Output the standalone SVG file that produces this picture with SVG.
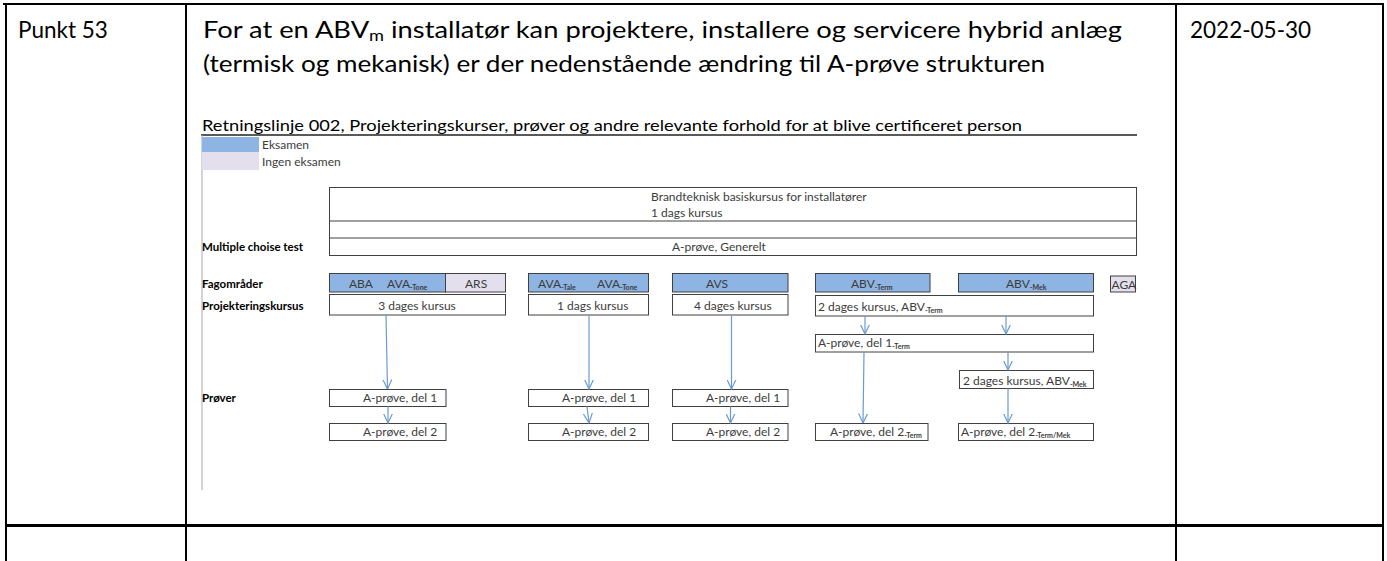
<svg xmlns="http://www.w3.org/2000/svg" width="1387" height="561" viewBox="0 0 1387 561">
<style>
.tbl{stroke:#000;stroke-width:2;fill:none}
.big{font-family:Lato,"Liberation Sans",sans-serif;font-size:22.5px;fill:#000}
.t{font-family:Lato,"Liberation Sans",sans-serif;font-size:12px;fill:#3c3c3c}
.lb{font-family:Lato,"Liberation Sans",sans-serif;font-size:11.5px;font-weight:bold;fill:#000}
.sub{font-size:7px;font-weight:bold}
.box{fill:#fff;stroke:#404040;stroke-width:1}
.ex{fill:#8DB4E2;stroke:#404040;stroke-width:1}
.no{fill:#E4DFEC;stroke:#404040;stroke-width:1}
.con line{stroke:#6C9BD2;stroke-width:1.2}
.arr{stroke:#6C9BD2;stroke-width:1.2;fill:none;marker-end:url(#ah)}
</style>
<defs>
<marker id="ah" viewBox="0 0 10 10" refX="9.5" refY="5" markerWidth="10" markerHeight="10" markerUnits="userSpaceOnUse" orient="auto">
<path d="M0,0.5 L9.5,5 L0,9.5" fill="none" stroke="#6C9BD2" stroke-width="1.2"/>
</marker>
</defs>
<rect width="1387" height="561" fill="#fff"/>

<g id="table">
<line class="tbl" x1="3" y1="4" x2="1384" y2="4"/>
<line class="tbl" x1="6" y1="4" x2="6" y2="561"/>
<line class="tbl" x1="186" y1="4" x2="186" y2="561"/>
<line class="tbl" x1="1176" y1="4" x2="1176" y2="561"/>
<line class="tbl" x1="1383" y1="4" x2="1383" y2="561"/>
<line x1="5" y1="525.5" x2="1384" y2="525.5" stroke="#000" stroke-width="3"/>
<text class="big" x="18" y="38">Punkt 53</text>
<text class="big" x="203" y="38" textLength="919" lengthAdjust="spacingAndGlyphs">For at en ABV<tspan font-size="15" dy="3">m</tspan><tspan dy="-3"> installatør kan projektere, installere og servicere hybrid anlæg</tspan></text>
<text class="big" x="203" y="72" textLength="842" lengthAdjust="spacingAndGlyphs">(termisk og mekanisk) er der nedenstående ændring til A-prøve strukturen</text>
<text class="big" x="1190" y="38">2022-05-30</text>
</g>

<g id="header">
<text x="202" y="131" font-family="Lato,'Liberation Sans',sans-serif" font-size="15" fill="#000" textLength="820" lengthAdjust="spacingAndGlyphs">Retningslinje 002, Projekteringskurser, prøver og andre relevante forhold for at blive certificeret person</text>
<line x1="201" y1="135" x2="1137" y2="135" stroke="#222" stroke-width="1.5"/>
<line x1="202" y1="135" x2="202" y2="490" stroke="#aaa" stroke-width="1"/>
</g>

<g id="legend">
<rect x="202" y="137" width="57" height="15" fill="#8DB4E2"/>
<rect x="202" y="152" width="57" height="18" fill="#E4DFEC"/>
<text class="t" x="262" y="149">Eksamen</text>
<text class="t" x="262" y="166">Ingen eksamen</text>
</g>

<g id="labels">
<text class="lb" x="202" y="251">Multiple choise test</text>
<text class="lb" x="202" y="287.5">Fagområder</text>
<text class="lb" x="202" y="310">Projekteringskursus</text>
<text class="lb" x="202" y="402">Prøver</text>
</g>

<g id="basis">
<rect class="box" x="329.5" y="187.5" width="807" height="68"/>
<line x1="329.5" y1="221" x2="1136.5" y2="221" stroke="#404040"/>
<line x1="329.5" y1="238" x2="1136.5" y2="238" stroke="#404040"/>
<text class="t" x="651" y="201">Brandteknisk basiskursus for installatører</text>
<text class="t" x="651" y="217">1 dags kursus</text>
<text class="t" x="672" y="251">A-prøve, Generelt</text>
</g>

<g id="col1">
<rect class="ex" x="329.5" y="273.5" width="116" height="18.5"/>
<rect class="no" x="445.5" y="273.5" width="60" height="18.5"/>
<text class="t" x="349" y="287.5">ABA</text>
<text class="t" x="387" y="287.5">AVA<tspan class="sub" dy="2">-Tone</tspan></text>
<text class="t" x="465" y="287.5">ARS</text>
<rect class="box" x="329.5" y="294.5" width="176" height="20.5"/>
<text class="t" x="417" y="310" text-anchor="middle">3 dages kursus</text>
</g>

<g id="col2">
<rect class="ex" x="528.5" y="273.5" width="120" height="18.5"/>
<text class="t" x="538" y="287.5">AVA<tspan class="sub" dy="2">-Tale</tspan></text>
<text class="t" x="597" y="287.5">AVA<tspan class="sub" dy="2">-Tone</tspan></text>
<rect class="box" x="528.5" y="294.5" width="120" height="20.5"/>
<text class="t" x="557" y="310">1 dags kursus</text>
</g>

<g id="col3">
<rect class="ex" x="672.5" y="273.5" width="115.5" height="18.5"/>
<text class="t" x="706" y="287.5">AVS</text>
<rect class="box" x="672.5" y="294.5" width="115.5" height="20.5"/>
<text class="t" x="694" y="310">4 dages kursus</text>
</g>

<g id="abvterm">
<rect class="ex" x="815.5" y="273.5" width="114.5" height="18.5"/>
<text class="t" x="851" y="287.5">ABV<tspan class="sub" dy="2">-Term</tspan></text>
</g>
<g id="abvmek">
<rect class="ex" x="958.5" y="273.5" width="135" height="18.5"/>
<text class="t" x="1006" y="287.5">ABV<tspan class="sub" dy="2">-Mek</tspan></text>
</g>
<g id="aga">
<rect class="no" x="1110.5" y="276" width="25" height="16"/>
<text class="t" x="1111.5" y="289">AGA</text>
</g>
<g id="kursus-term">
<rect class="box" x="815.5" y="295.5" width="278" height="20.5"/>
<text class="t" x="818" y="310.5">2 dages kursus, ABV<tspan class="sub" dy="2">-Term</tspan></text>
</g>
<g id="del1-term">
<rect class="box" x="815.5" y="334.5" width="278" height="17.5"/>
<text class="t" x="818" y="347">A-prøve, del 1<tspan class="sub" dy="2">-Term</tspan></text>
</g>
<g id="kursus-mek">
<rect class="box" x="959.5" y="370.5" width="134" height="18"/>
<text class="t" x="963" y="384.5">2 dages kursus, ABV<tspan class="sub" dy="2">-Mek</tspan></text>
</g>

<g id="del1-col1"><rect class="box" x="329.5" y="389.5" width="116.5" height="17"/><text class="t" x="363" y="402">A-prøve, del 1</text></g>
<g id="del1-col2"><rect class="box" x="528.5" y="389.5" width="120" height="17"/><text class="t" x="562" y="402">A-prøve, del 1</text></g>
<g id="del1-col3"><rect class="box" x="672.5" y="389.5" width="115.5" height="17"/><text class="t" x="706" y="402">A-prøve, del 1</text></g>

<g id="del2-col1"><rect class="box" x="329.5" y="423.5" width="116.5" height="17"/><text class="t" x="363" y="436">A-prøve, del 2</text></g>
<g id="del2-col2"><rect class="box" x="528.5" y="423.5" width="120" height="17"/><text class="t" x="562" y="436">A-prøve, del 2</text></g>
<g id="del2-col3"><rect class="box" x="672.5" y="423.5" width="115.5" height="17"/><text class="t" x="706" y="436">A-prøve, del 2</text></g>
<g id="del2-term"><rect class="box" x="815.5" y="423.5" width="112.5" height="17"/><text class="t" x="830" y="436">A-prøve, del 2<tspan class="sub" dy="2">-Term</tspan></text></g>
<g id="del2-termmek"><rect class="box" x="958.5" y="423.5" width="135" height="17"/><text class="t" x="961" y="436">A-prøve, del 2<tspan class="sub" dy="2">-Term/Mek</tspan></text></g>

<g id="connectors">
<line class="arr" x1="386" y1="315" x2="387.5" y2="389"/>
<line class="arr" x1="388" y1="406.5" x2="388" y2="423"/>
<line class="arr" x1="589" y1="315" x2="589" y2="389"/>
<line class="arr" x1="587" y1="406.5" x2="589" y2="423"/>
<line class="arr" x1="731.5" y1="315" x2="731.5" y2="389"/>
<line class="arr" x1="730.5" y1="406.5" x2="730.5" y2="423"/>
<line class="arr" x1="865" y1="316" x2="865" y2="334"/>
<line class="arr" x1="1006" y1="316" x2="1006" y2="334"/>
<line class="arr" x1="864" y1="352" x2="863" y2="423"/>
<line class="arr" x1="1008" y1="352" x2="1008" y2="370"/>
<line class="arr" x1="1008" y1="388.5" x2="1008" y2="423"/>
</g>
</svg>
